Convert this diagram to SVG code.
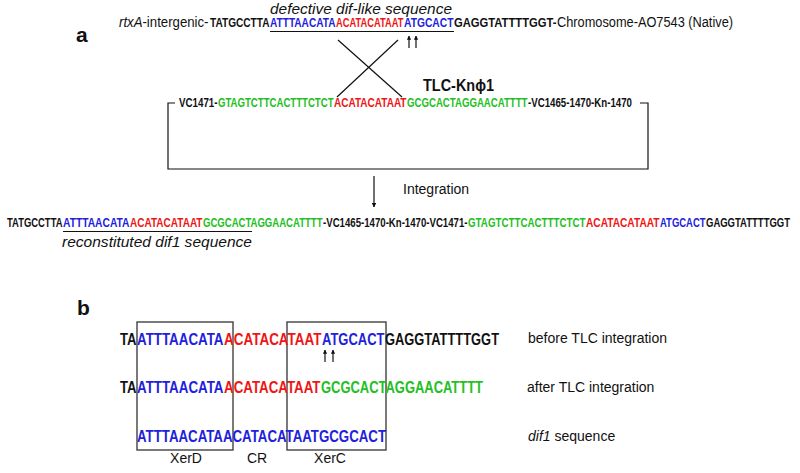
<svg xmlns="http://www.w3.org/2000/svg" width="800" height="473" viewBox="0 0 800 473">
<defs>
<style>
text{font-family:"Liberation Sans",Arial,sans-serif;}
.s{font-weight:bold;font-size:12px;}
.m{font-weight:bold;font-size:17px;}
.k{fill:#111;}
.bl{fill:#2121dd;}
.rd{fill:#ee1515;}
.gr{fill:#22c022;}
.lab{font-size:14px;fill:#111;}
.it{font-style:italic;}
.ln{stroke:#111;stroke-width:1.2;fill:none;}
.box{stroke:#333;stroke-width:1.3;fill:none;}
</style>
<marker id="ah" viewBox="0 0 10 10" refX="9" refY="5" markerWidth="4" markerHeight="4" orient="auto"><path d="M0,0L10,5L0,10z" fill="#111"/></marker>
<marker id="ah2" viewBox="0 0 10 10" refX="9" refY="5" markerWidth="3.5" markerHeight="3.5" orient="auto"><path d="M0,0L10,5L0,10z" fill="#111"/></marker>
</defs>
<rect width="800" height="473" fill="#fff"/>

<g id="panel-a-label"><text x="76" y="42" font-size="21" font-weight="bold" fill="#111">a</text></g>

<g id="native-sequence">
<text x="270" y="14" class="lab it" font-size="14.5" textLength="182" lengthAdjust="spacingAndGlyphs">defective dif-like sequence</text>
<text y="27" class="lab"><tspan x="119" textLength="89.5" lengthAdjust="spacingAndGlyphs"><tspan class="it">rtxA</tspan>-intergenic-</tspan><tspan x="210" class="s k" textLength="59.5" lengthAdjust="spacingAndGlyphs">TATGCCTTA</tspan><tspan x="270" class="s bl" textLength="65.5" lengthAdjust="spacingAndGlyphs">ATTTAACATA</tspan><tspan x="336" class="s rd" textLength="67.5" lengthAdjust="spacingAndGlyphs">ACATACATAAT</tspan><tspan x="404" class="s bl" textLength="49.5" lengthAdjust="spacingAndGlyphs">ATGCACT</tspan><tspan x="454" class="s k" textLength="102.5" lengthAdjust="spacingAndGlyphs">GAGGTATTTTGGT-</tspan><tspan x="557" textLength="176" lengthAdjust="spacingAndGlyphs">Chromosome-AO7543 (Native)</tspan></text>
<line x1="270" y1="31.5" x2="454" y2="31.5" class="ln" stroke-width="1"/>
</g>

<g id="tlc-element">
<text x="423" y="91" font-size="16" font-weight="bold" fill="#111" textLength="71" lengthAdjust="spacingAndGlyphs">TLC-Knϕ1</text>
<text y="107" class="s"><tspan x="179" class="k" textLength="38.5" lengthAdjust="spacingAndGlyphs">VC1471-</tspan><tspan x="218" class="gr" textLength="115.5" lengthAdjust="spacingAndGlyphs">GTAGTCTTCACTTTCTCT</tspan><tspan x="334" class="rd" textLength="72.5" lengthAdjust="spacingAndGlyphs">ACATACATAAT</tspan><tspan x="407" class="gr" textLength="120.5" lengthAdjust="spacingAndGlyphs">GCGCACTAGGAACATTTT</tspan><tspan x="528" class="k" textLength="104" lengthAdjust="spacingAndGlyphs">-VC1465-1470-Kn-1470</tspan></text>
<path d="M175,103H168V169H648V103H640" class="ln"/>
</g>

<g id="integrated-sequence">
<text y="227" class="s"><tspan x="7" class="k" textLength="55.5" lengthAdjust="spacingAndGlyphs">TATGCCTTA</tspan><tspan x="63" class="bl" textLength="66.5" lengthAdjust="spacingAndGlyphs">ATTTAACATA</tspan><tspan x="130" class="rd" textLength="72.5" lengthAdjust="spacingAndGlyphs">ACATACATAAT</tspan><tspan x="203" class="gr" textLength="119.5" lengthAdjust="spacingAndGlyphs">GCGCACTAGGAACATTTT</tspan><tspan x="323" class="k" textLength="144.5" lengthAdjust="spacingAndGlyphs">-VC1465-1470-Kn-1470-VC1471-</tspan><tspan x="468" class="gr" textLength="117.5" lengthAdjust="spacingAndGlyphs">GTAGTCTTCACTTTCTCT</tspan><tspan x="586" class="rd" textLength="73.5" lengthAdjust="spacingAndGlyphs">ACATACATAAT</tspan><tspan x="660" class="bl" textLength="45.5" lengthAdjust="spacingAndGlyphs">ATGCACT</tspan><tspan x="706" class="k" textLength="84" lengthAdjust="spacingAndGlyphs">GAGGTATTTTGGT</tspan></text>
<line x1="63" y1="231.5" x2="252" y2="231.5" class="ln" stroke-width="1"/>
<text x="62" y="247" class="lab it" font-size="15" textLength="190" lengthAdjust="spacingAndGlyphs">reconstituted dif1 sequence</text>
</g>

<g id="connectors">
<line x1="338" y1="40" x2="402" y2="97" class="ln"/>
<line x1="398" y1="40" x2="337" y2="97" class="ln"/>
<line x1="409" y1="48" x2="409" y2="36" class="ln" stroke-width="1.5" marker-end="url(#ah2)"/>
<line x1="416" y1="48" x2="416" y2="36" class="ln" stroke-width="1.5" marker-end="url(#ah2)"/>
<line x1="374" y1="176" x2="374" y2="207" class="ln" stroke-width="2" marker-end="url(#ah)"/>
<line x1="325" y1="362" x2="325" y2="350" class="ln" stroke-width="1.5" marker-end="url(#ah2)"/>
<line x1="333" y1="362" x2="333" y2="350" class="ln" stroke-width="1.5" marker-end="url(#ah2)"/>
</g>
<g id="integration-label"><text x="403" y="194" class="lab">Integration</text></g>

<g id="panel-b-label"><text x="77" y="315" font-size="21" font-weight="bold" fill="#111">b</text></g>

<g id="boxes">
<rect x="137" y="322" width="96" height="128" class="box"/>
<rect x="287" y="322" width="99" height="128" class="box"/>
</g>

<g id="row-before">
<text y="345" class="m"><tspan x="120" class="k" textLength="16.5" lengthAdjust="spacingAndGlyphs">TA</tspan><tspan x="137" class="bl" textLength="86.5" lengthAdjust="spacingAndGlyphs">ATTTAACATA</tspan><tspan x="224" class="rd" textLength="97.5" lengthAdjust="spacingAndGlyphs">ACATACATAAT</tspan><tspan x="322" class="bl" textLength="62.5" lengthAdjust="spacingAndGlyphs">ATGCACT</tspan><tspan x="385" class="k" textLength="114" lengthAdjust="spacingAndGlyphs">GAGGTATTTTGGT</tspan></text>
<text x="528" y="343" class="lab" font-size="13">before TLC integration</text>
</g>

<g id="row-after">
<text y="393" class="m"><tspan x="120" class="k" textLength="16.5" lengthAdjust="spacingAndGlyphs">TA</tspan><tspan x="137" class="bl" textLength="86.5" lengthAdjust="spacingAndGlyphs">ATTTAACATA</tspan><tspan x="224" class="rd" textLength="96.5" lengthAdjust="spacingAndGlyphs">ACATACATAAT</tspan><tspan x="321" class="gr" textLength="162" lengthAdjust="spacingAndGlyphs">GCGCACTAGGAACATTTT</tspan></text>
<text x="527" y="392" class="lab" font-size="13">after TLC integration</text>
</g>

<g id="row-dif1">
<text x="137" y="442" class="m bl" textLength="249" lengthAdjust="spacingAndGlyphs">ATTTAACATAACATACATAATGCGCACT</text>
<text x="528" y="441" class="lab" font-size="13"><tspan class="it">dif1</tspan> sequence</text>
</g>

<g id="site-labels">
<text x="186" y="463" class="lab" text-anchor="middle">XerD</text>
<text x="257" y="463" class="lab" text-anchor="middle">CR</text>
<text x="330" y="463" class="lab" text-anchor="middle">XerC</text>
</g>
</svg>
